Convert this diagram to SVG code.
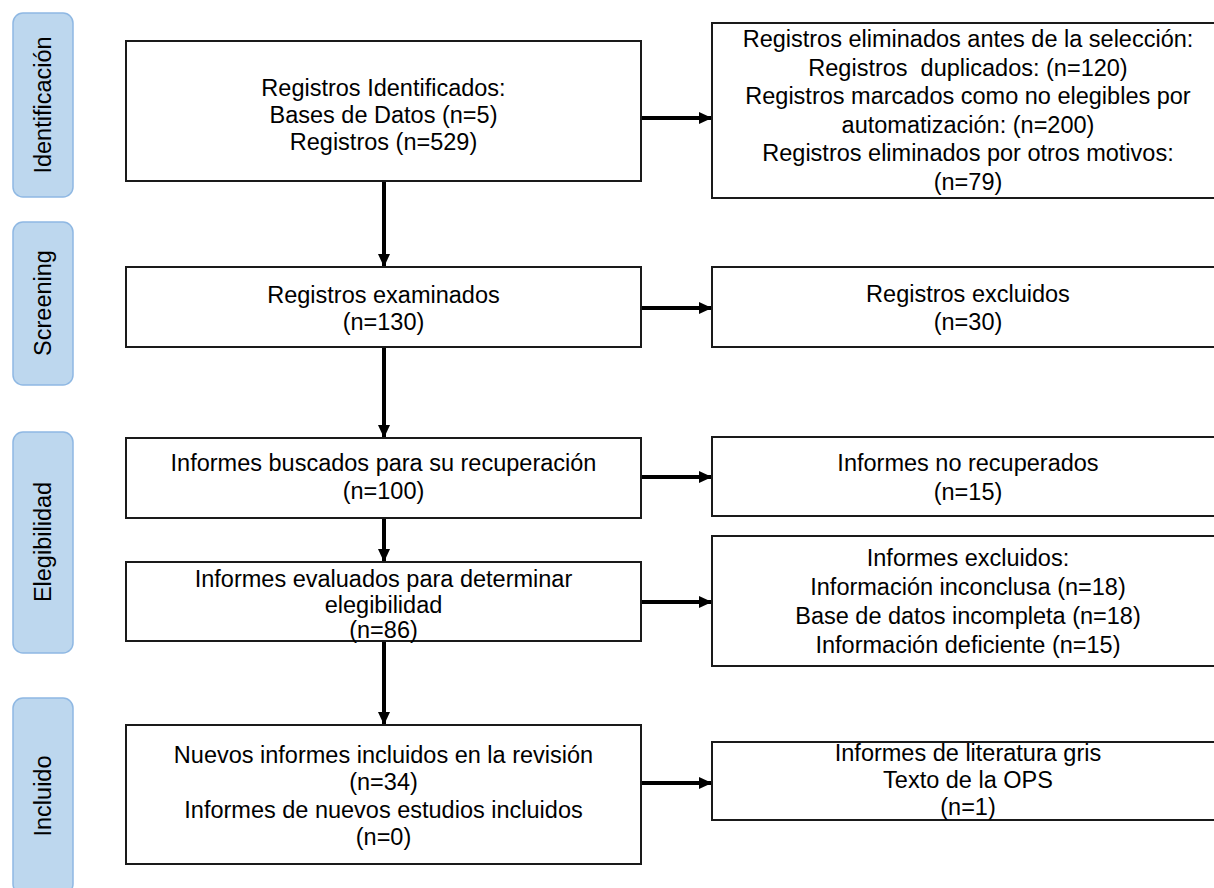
<svg xmlns="http://www.w3.org/2000/svg" width="1214" height="888" viewBox="0 0 1214 888">
<defs>
<style>
.box{fill:#fff;stroke:#1a1a1a;stroke-width:2}
.lbl{fill:#BDD7EE;stroke:#8FB8E3;stroke-width:1.5}
text{font-family:"Liberation Sans",Arial,sans-serif;font-size:23.5px;fill:#000;text-anchor:middle}
.con{stroke:#000;stroke-width:4;fill:none;marker-end:url(#ah)}
</style>
<marker id="ah" markerUnits="userSpaceOnUse" markerWidth="14" markerHeight="14" viewBox="0 0 14 14" refX="13" refY="7" orient="auto">
<path d="M0,1 L13,7 L0,13 Z" fill="#000"/>
</marker>
</defs>
<rect width="1214" height="888" fill="#fff"/>

<g id="lbl-identificacion"><rect class="lbl" x="13" y="13" width="60" height="184" rx="10"/><text transform="translate(51,105) rotate(-90)">Identificación</text></g>
<g id="lbl-screening"><rect class="lbl" x="13" y="222" width="60" height="163" rx="10"/><text transform="translate(51,303) rotate(-90)">Screening</text></g>
<g id="lbl-elegibilidad"><rect class="lbl" x="13" y="432" width="60" height="221" rx="10"/><text transform="translate(51,542) rotate(-90)">Elegibilidad</text></g>
<g id="lbl-incluido"><rect class="lbl" x="13" y="698" width="60" height="196" rx="10"/><text transform="translate(51,796) rotate(-90)">Incluido</text></g>

<g id="connectors">
<line class="con" x1="641" y1="118" x2="712" y2="118"/>
<line class="con" x1="641" y1="308" x2="712" y2="308"/>
<line class="con" x1="641" y1="477" x2="712" y2="477"/>
<line class="con" x1="641" y1="602" x2="712" y2="602"/>
<line class="con" x1="641" y1="783" x2="712" y2="783"/>
<line class="con" x1="384" y1="181" x2="384" y2="267"/>
<line class="con" x1="384" y1="347" x2="384" y2="438"/>
<line class="con" x1="384" y1="518" x2="384" y2="562"/>
<line class="con" x1="384" y1="641" x2="384" y2="725"/>
</g>

<g id="n-identificados"><rect class="box" x="126" y="41" width="515" height="140"/>
<text x="383.5" y="96">Registros Identificados:</text>
<text x="383.5" y="123">Bases de Datos (n=5)</text>
<text x="383.5" y="150">Registros (n=529)</text></g>

<g id="n-eliminados"><rect class="box" x="712" y="23" width="514" height="175"/>
<text x="968" y="47">Registros eliminados antes de la selección:</text>
<text x="968" y="76" xml:space="preserve">Registros  duplicados: (n=120)</text>
<text x="968" y="104">Registros marcados como no elegibles por</text>
<text x="968" y="133">automatización: (n=200)</text>
<text x="968" y="161">Registros eliminados por otros motivos:</text>
<text x="968" y="190">(n=79)</text></g>

<g id="n-examinados"><rect class="box" x="126" y="267" width="515" height="80"/>
<text x="383.5" y="303">Registros examinados</text>
<text x="383.5" y="330">(n=130)</text></g>

<g id="n-excluidos"><rect class="box" x="712" y="267" width="514" height="80"/>
<text x="968" y="302">Registros excluidos</text>
<text x="968" y="330">(n=30)</text></g>

<g id="n-buscados"><rect class="box" x="126" y="438" width="515" height="80"/>
<text x="383.5" y="471">Informes buscados para su recuperación</text>
<text x="383.5" y="499">(n=100)</text></g>

<g id="n-norecuperados"><rect class="box" x="712" y="437" width="514" height="79"/>
<text x="968" y="471">Informes no recuperados</text>
<text x="968" y="500">(n=15)</text></g>

<g id="n-evaluados"><rect class="box" x="126" y="562" width="515" height="79"/>
<text x="383.5" y="587">Informes evaluados para determinar</text>
<text x="383.5" y="613">elegibilidad</text>
<text x="383.5" y="638">(n=86)</text></g>

<g id="n-excluidos2"><rect class="box" x="712" y="536" width="514" height="130"/>
<text x="968" y="566">Informes excluidos:</text>
<text x="968" y="595">Información inconclusa (n=18)</text>
<text x="968" y="624">Base de datos incompleta (n=18)</text>
<text x="968" y="653">Información deficiente (n=15)</text></g>

<g id="n-incluidos"><rect class="box" x="126" y="725" width="515" height="139"/>
<text x="383.5" y="763">Nuevos informes incluidos en la revisión</text>
<text x="383.5" y="790">(n=34)</text>
<text x="383.5" y="818">Informes de nuevos estudios incluidos</text>
<text x="383.5" y="845">(n=0)</text></g>

<g id="n-gris"><rect class="box" x="712" y="742" width="514" height="78"/>
<text x="968" y="761">Informes de literatura gris</text>
<text x="968" y="788">Texto de la OPS</text>
<text x="968" y="815">(n=1)</text></g>
</svg>
